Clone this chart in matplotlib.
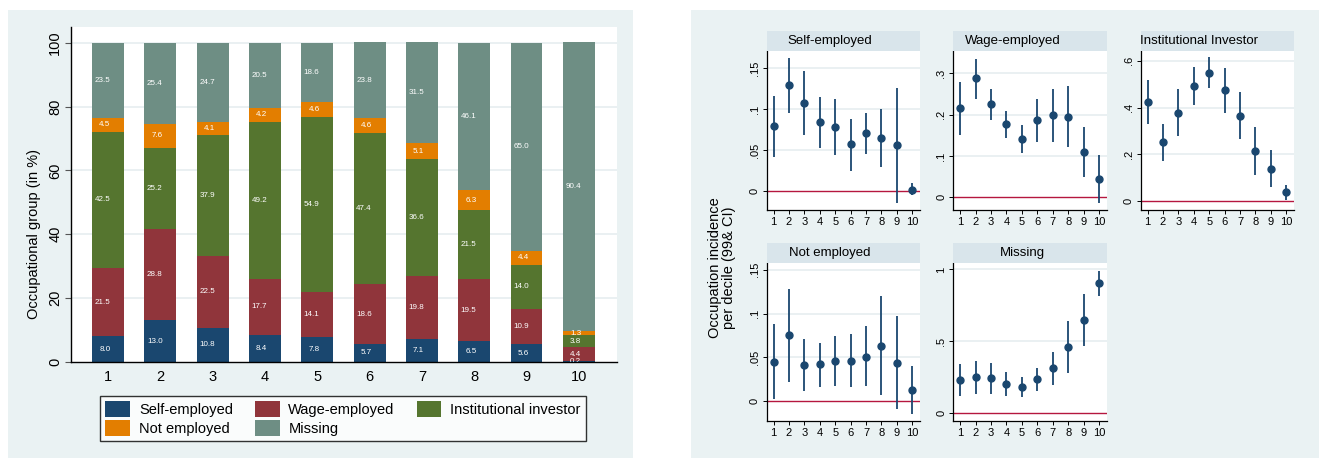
import matplotlib
matplotlib.use("Agg")
import matplotlib.pyplot as plt
from matplotlib.patches import Rectangle
import numpy as np

plt.rcParams['font.family'] = ['Liberation Sans', 'DejaVu Sans']

# occupational shares by decile (in %)
deciles = [1, 2, 3, 4, 5, 6, 7, 8, 9, 10]
groups = ["Self-employed", "Wage-employed", "Institutional investor", "Not employed", "Missing"]
self_emp = [8.0, 13.0, 10.8, 8.4, 7.8, 5.7, 7.1, 6.5, 5.6, 0.2]
wage_emp = [21.5, 28.8, 22.5, 17.7, 14.1, 18.6, 19.8, 19.5, 10.9, 4.4]
inst_inv = [42.5, 25.2, 37.9, 49.2, 54.9, 47.4, 36.6, 21.5, 14.0, 3.8]
not_emp = [4.5, 7.6, 4.1, 4.2, 4.6, 4.6, 5.1, 6.3, 4.4, 1.3]
missing = [23.5, 25.4, 24.7, 20.5, 18.6, 23.8, 31.5, 46.1, 65.0, 90.4]

# incidence per decile with 99% confidence interval
se_est = [0.080, 0.130, 0.108, 0.084, 0.078, 0.057, 0.071, 0.065, 0.056, 0.002]
se_lo = [0.042, 0.096, 0.069, 0.053, 0.044, 0.025, 0.045, 0.030, -0.014, -0.005]
se_hi = [0.116, 0.162, 0.147, 0.115, 0.112, 0.088, 0.096, 0.100, 0.126, 0.010]

we_est = [0.215, 0.288, 0.225, 0.177, 0.141, 0.186, 0.198, 0.195, 0.109, 0.044]
we_lo = [0.151, 0.238, 0.187, 0.144, 0.106, 0.133, 0.134, 0.121, 0.049, -0.013]
we_hi = [0.278, 0.336, 0.261, 0.210, 0.176, 0.238, 0.261, 0.269, 0.170, 0.102]

ii_est = [0.425, 0.252, 0.379, 0.492, 0.549, 0.474, 0.366, 0.215, 0.140, 0.038]
ii_lo = [0.332, 0.172, 0.279, 0.410, 0.483, 0.378, 0.265, 0.111, 0.061, 0.004]
ii_hi = [0.517, 0.329, 0.479, 0.573, 0.616, 0.570, 0.467, 0.318, 0.219, 0.070]

ne_est = [0.045, 0.076, 0.041, 0.042, 0.046, 0.046, 0.051, 0.063, 0.044, 0.013]
ne_lo = [0.003, 0.022, 0.012, 0.016, 0.018, 0.016, 0.017, 0.007, -0.009, -0.014]
ne_hi = [0.088, 0.128, 0.071, 0.067, 0.075, 0.077, 0.086, 0.120, 0.097, 0.040]

mi_est = [0.235, 0.254, 0.247, 0.205, 0.186, 0.238, 0.315, 0.461, 0.650, 0.904]
mi_lo = [0.123, 0.137, 0.137, 0.119, 0.116, 0.158, 0.198, 0.279, 0.470, 0.814]
mi_hi = [0.344, 0.367, 0.353, 0.286, 0.251, 0.314, 0.428, 0.642, 0.830, 0.991]

navy = '#1a476f'
colors = [navy, '#90353b', '#55752f', '#e37e00', '#6e8e84']
bg = '#eaf2f3'
strip = '#d9e5eb'
grid_c = '#e6eef0'
red = '#b5173f'

W, H = 1319, 458
fig = plt.figure(figsize=(W / 100, H / 100), dpi=100)


def frect(x0, y0, x1, y1):
    # pixel box (top-left origin) -> figure fraction
    return [x0 / W, 1 - y1 / H, (x1 - x0) / W, (y1 - y0) / H]


for box in [(8, 10, 633, 458), (691, 10, 1319, 458)]:
    l, b, w, h = frect(*box)
    fig.add_artist(Rectangle((l, b), w, h, transform=fig.transFigure,
                             facecolor=bg, edgecolor='none', zorder=-5))

# ---- stacked bars ----
ax = fig.add_axes(frect(70.7, 26.7, 617, 362))
series = [self_emp, wage_emp, inst_inv, not_emp, missing]
x = np.array(deciles)
bottom = np.zeros(len(x))
handles = []
for name, vals, col in zip(groups, series, colors):
    vals = np.array(vals)
    h = ax.bar(x, vals, 0.61, bottom=bottom, color=col, label=name, zorder=2)
    handles.append(h)
    for xi, b, v in zip(x, bottom, vals):
        ax.text(xi + 0.045, b + v / 2, f"{v:.1f}", ha='right', va='center',
                color='white', fontsize=5.8, zorder=3, clip_on=True)
    bottom += vals

ax.set_xlim(0.287, 10.73)
ax.set_ylim(0, 105)
ax.set_yticks([0, 20, 40, 60, 80, 100])
ax.set_xticks(deciles)
ax.tick_params(axis='x', length=0, pad=6, labelsize=10.5)
ax.tick_params(axis='y', length=4, width=0.8, labelsize=10.5, pad=2, color='#555555')
for lab in ax.get_yticklabels():
    lab.set_rotation(90)
    lab.set_va('center')
for yv in [20, 40, 60, 80, 100]:
    ax.axhline(yv, color=grid_c, lw=1.2, zorder=1)
for s in ['top', 'right']:
    ax.spines[s].set_visible(False)
ax.spines['left'].set_linewidth(1.0)
ax.spines['bottom'].set_linewidth(1.0)
fig.text(34 / W, 1 - 234 / H, "Occupational group (in %)", rotation=90,
         ha='center', va='center', fontsize=10.5)

order = [0, 3, 1, 4, 2]
leg = fig.legend([handles[i] for i in order], [groups[i] for i in order],
                 ncol=3, loc='center', fontsize=10.5, frameon=True,
                 bbox_to_anchor=((99 + 587) / 2 / W, 1 - (393 + 444) / 2 / H),
                 handlelength=1.7, handleheight=1.3, handletextpad=0.6,
                 columnspacing=1.5, labelspacing=0.2, borderpad=0.35,
                 fancybox=False, edgecolor='black')
leg.get_frame().set_linewidth(1.0)

# ---- incidence panels ----
def fmt(v):
    if v == 0:
        return "0"
    s = f"{v:g}"
    return s[1:] if s.startswith("0.") else s


panels = [
    ("Self-employed", se_est, se_lo, se_hi, [0, 0.05, 0.1, 0.15], (-0.023, 0.1715), (766.7, 50.7, 920, 210), 0.41),
    ("Wage-employed", we_est, we_lo, we_hi, [0, 0.1, 0.2, 0.3], (-0.031, 0.355), (953.3, 50.7, 1106.7, 210), 0.39),
    ("Institutional Investor", ii_est, ii_lo, ii_hi, [0, 0.2, 0.4, 0.6], (-0.037, 0.643), (1140.7, 50.7, 1294, 210), 0.38),
    ("Not employed", ne_est, ne_lo, ne_hi, [0, 0.05, 0.1, 0.15], (-0.0224, 0.158), (766.7, 262.7, 920, 421), 0.41),
    ("Missing", mi_est, mi_lo, mi_hi, [0, 0.5, 1], (-0.0535, 1.047), (953.3, 262.7, 1106.7, 421), 0.45),
]

for title, est, lo, hi, yt, ylim, box, tx in panels:
    a = fig.add_axes(frect(*box))
    a.set_xlim(0.55, 10.5)
    a.set_ylim(*ylim)
    for yv in yt[1:]:
        a.axhline(yv, color=grid_c, lw=1.2, zorder=1)
    a.axhline(0, color=red, lw=1.0, zorder=2)
    a.vlines(deciles, lo, hi, color=navy, lw=1.3, zorder=3)
    a.plot(deciles, est, 'o', color=navy, ms=5, zorder=4)
    a.set_xticks(deciles)
    a.set_yticks(yt)
    a.set_yticklabels([fmt(v) for v in yt], rotation=90, va='center')
    a.tick_params(axis='both', length=3, width=0.7, labelsize=8, pad=2)
    for s in ['top', 'right']:
        a.spines[s].set_visible(False)
    a.spines['left'].set_linewidth(0.9)
    a.spines['bottom'].set_linewidth(0.9)
    x0, y1, x1, _ = box
    l, b, w, h = frect(x0, y1 - 19.5, x1, y1)
    fig.add_artist(Rectangle((l, b), w, h, transform=fig.transFigure,
                             facecolor=strip, edgecolor='none', zorder=1))
    fig.text(l + w * tx, b + h / 2, title, ha='center', va='center', fontsize=9.5)

fig.text(722 / W, 1 - 268 / H, "Occupation incidence\nper decile (99& CI)",
         rotation=90, ha='center', va='center', fontsize=10.5, linespacing=1.0)

fig.savefig("out.png", dpi=100)
